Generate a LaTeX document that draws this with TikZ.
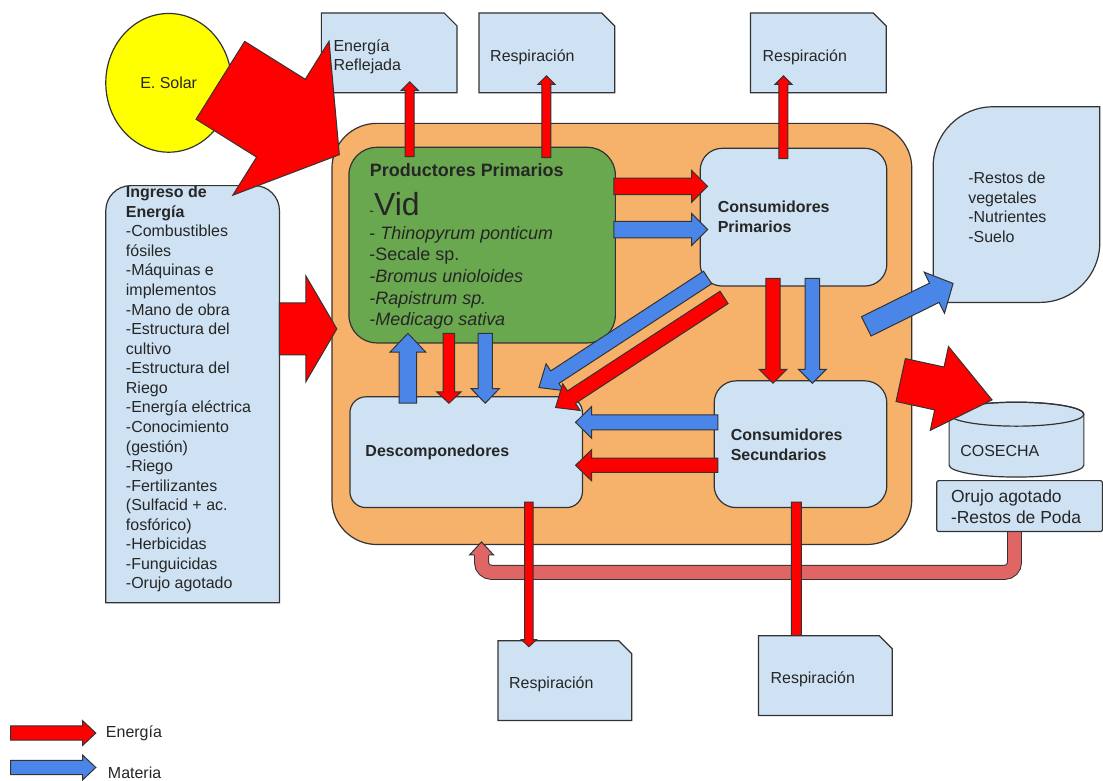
\documentclass[tikz,border=0pt]{standalone}
\usepackage{fontspec}
\setmainfont{Liberation Sans}
\usetikzlibrary{calc,shapes.geometric}

\definecolor{cajaazul}{HTML}{CFE2F3}
\definecolor{verdevid}{HTML}{6AA84F}
\definecolor{naranja}{HTML}{F6B26B}
\definecolor{energia}{HTML}{FF0000}
\definecolor{materia}{HTML}{4A86E8}
\definecolor{amarillo}{HTML}{FFFF00}
\definecolor{retorno}{HTML}{E06666}
\definecolor{borde}{HTML}{333333}

\tikzset{
    caja/.style={draw=borde, fill=cajaazul, line width=1.2pt, anchor=north west, inner sep=0pt},
    texto/.style={anchor=west, inner sep=0pt, text=black!85, font=\fontsize{16}{19.6}\selectfont, align=left},
    negrita/.style={texto, font=\fontsize{16}{19.6}\selectfont\bfseries},
    flecha/.style={draw=borde, line width=1pt, line join=miter}
}

\newcommand{\fatarrow}[6][energia]{%
    \filldraw[flecha, fill=#1] ($(#2)!#4pt!90:(#3)$) -- ($(#3)!#6pt!(#2)!#4pt!-90:(#2)$)
        -- ($(#3)!#6pt!(#2)!#5pt!-90:(#2)$) -- (#3) -- ($(#3)!#6pt!(#2)!#5pt!90:(#2)$)
        -- ($(#3)!#6pt!(#2)!#4pt!90:(#2)$) -- ($(#2)!#4pt!-90:(#3)$) -- cycle;}

\begin{document}
\begin{tikzpicture}[x=1pt, y=-1pt]
    \fill[white] (0,0) rectangle (1103,780);
    \node[caja, fill=naranja, minimum width=581, minimum height=422, rounded corners=45] (agro) at (332,123) {};
    \node[caja, fill=verdevid, minimum width=267, minimum height=196, rounded corners=28] (pp) at (349,147) {};
    \node[caja, minimum width=187, minimum height=138, rounded corners=22] (cp) at (701,148) {};
    \node[caja, minimum width=233, minimum height=111, rounded corners=16] (desc) at (350,397) {};
    \node[caja, minimum width=173, minimum height=127, rounded corners=22] (cs) at (715,381) {};
    \foreach \n/\x/\y/\w in {refl/322/13/136, resp1/480/13/136, resp2/752/13/136, resp3/499/642/134}
        \filldraw[caja] (\x,\y) coordinate (\n) -- ++(\w-13,0) -- ++(13,13) -- ++(0,67) -- ++(-\w,0) -- cycle;
    \node[draw=borde, line width=1.2pt, fill=amarillo, ellipse, minimum width=126, minimum height=139,
        inner sep=0pt, text=black!85, font=\fontsize{16}{19.6}\selectfont] (sol) at (169,83) {E. Solar};
    \filldraw[caja] (106,604) -- (106,211) arc[start angle=180, end angle=90, radius=25pt]
        -- (255,186) arc[start angle=90, end angle=0, radius=25pt] -- (280,604) -- cycle;
    \filldraw[caja] (935,303) -- (935,167) arc[start angle=180, end angle=90, radius=60pt]
        -- (1102,107) -- (1102,243) arc[start angle=0, end angle=-90, radius=60pt] -- cycle;
    \filldraw[caja] (951,415) -- (951,466) arc[start angle=180, end angle=360, x radius=67.5pt, y radius=12pt]
        -- (1086,415) arc[start angle=0, end angle=180, x radius=67.5pt, y radius=12pt] -- cycle;
    \draw[draw=borde, line width=1.2pt] (1018.5,415) ellipse [x radius=67.5pt, y radius=12pt];

    \foreach \n/\x/\y in {solA/220.8/80.5, solB/340/155, ingA/280/329.5, ingB/337.5/329.5,
        reflA/410.5/157, reflB/410.5/82, rspA/547.5/158, rspB/547.5/76, rscA/785/159, rscB/785/76,
        ppcpA/615/186.7, ppcpB/709/186.7, ppcpC/615/230, ppcpD/709/230,
        cpcsA/774.5/279, cpcsB/774.5/384, cpcsC/814/279, cpcsD/814/384,
        cpdA/709/278, cpdB/540/388.3, cpdC/725.5/298, cpdD/556.7/408.3,
        csdA/719.3/423.2, csdB/576.7/423.2, csdC/719.3/466.2, csdD/576.7/466.2,
        dppA/408.7/404, dppB/408.7/334, ppdA/449.8/334, ppdB/449.8/404, ppdC/486.2/334, ppdD/486.2/404,
        dresA/530/503, dresB/530/648, csresA/798/503, csresB/798/650,
        restA/868/327, restB/955/284, cosA/902.5/380.8, cosB/994/400.7,
        leyA/10.7/734.5, leyB/96/734.5, leyC/10.7/769, leyD/96/769,
        ret1/1016.5/531, ret2/482.5/543}
        \coordinate (\n) at (\x,\y);

    \draw[line width=15, borde, rounded corners=10] (ret1) -- ++(0,42.5) -| ($(ret2)+(0,12)$);
    \draw[line width=13, retorno, rounded corners=10] (ret1) -- ++(0,42.5) -| ($(ret2)+(0,12)$);
    \fill[retorno] ($(ret2)+(-12,13)$) -- (ret2) -- ($(ret2)+(12,13)$) -- cycle;
    \draw[flecha] ($(ret2)+(-7.5,13)$) -- ($(ret2)+(-12,13)$) -- (ret2) -- ($(ret2)+(12,13)$) -- ($(ret2)+(7.5,13)$);
    \node[caja, minimum width=166, minimum height=51, rounded corners=2] (orujo) at (938,481) {};

    \fatarrow{csresA}{csresB}{5}{8}{8}
    \filldraw[caja] (760,637) coordinate (resp4) -- ++(121,0) -- ++(13,13) -- ++(0,67) -- ++(-134,0) -- cycle;

    \foreach \c/\a/\b/\w/\h/\l in {energia/solA/solB/46/91/69, energia/ingA/ingB/26/53/31,
        energia/reflA/reflB/4.5/8.5/8.5, energia/rspA/rspB/4.5/8.5/8.5, energia/rscA/rscB/4.5/8.5/8.5,
        energia/ppcpA/ppcpB/8.3/16/16, materia/ppcpC/ppcpD/8.3/16/16,
        energia/cpcsA/cpcsB/7.2/14/14, materia/cpcsC/cpcsD/7.2/14/14,
        materia/cpdA/cpdB/7.5/16/19, energia/cpdC/cpdD/7.4/16/19,
        materia/csdA/csdB/7.5/15.8/16, energia/csdC/csdD/7.2/15.5/16,
        materia/dppA/dppB/8.7/17.8/18.7, energia/ppdA/ppdB/5.8/12.2/11.3, materia/ppdC/ppdD/7.2/14.2/14.7,
        energia/dresA/dresB/4.3/7.5/7, materia/restA/restB/10.8/23/21, energia/cosA/cosB/22/43/54,
        energia/leyA/leyB/7.2/12.5/13.3, materia/leyC/leyD/7.2/12.5/13.3}
        \fatarrow[\c]{\a}{\b}{\w}{\h}{\l};

    \node[texto] (trefl) at (334,57) {Energía\\Reflejada};
    \node[texto] (tresp1) at (491,57) {Respiración};
    \node[texto] (tresp2) at (764,57) {Respiración};
    \node[texto] (tresp3) at (510,686) {Respiración};
    \node[texto] (tresp4) at (772,681) {Respiración};
    \node[texto, font=\fontsize{18}{21}\selectfont\bfseries] (tpp) at (370.5,170) {Productores Primarios};
    \node[texto] (tvid) at (370,204) {{\fontsize{14}{14}\selectfont -}{\fontsize{32}{32}\selectfont Vid}};
    \node[texto, font=\fontsize{18}{21.7}\selectfont] (tlista) at (370,278.5)
        {- \textit{Thinopyrum ponticum}\\-Secale sp.\\\textit{-Bromus unioloides}\\\textit{-Rapistrum sp.}\\\textit{-Medicago sativa}};
    \node[negrita] (tcp) at (719,217) {Consumidores\\Primarios};
    \node[negrita] (tcs) at (732,445.5) {Consumidores\\Secundarios};
    \node[negrita] (tdesc) at (366,453) {Descomponedores};
    \node[texto] (ting) at (126,390) {\textbf{Ingreso de}\\\textbf{Energía}\\-Combustibles\\fósiles\\-Máquinas e\\implementos\\-Mano de obra\\-Estructura del\\cultivo\\-Estructura del\\Riego\\-Energía eléctrica\\-Conocimiento\\(gestión)\\-Riego\\-Fertilizantes\\(Sulfacid + ac.\\fosfórico)\\-Herbicidas\\-Funguicidas\\-Orujo agotado};
    \node[texto] (trest) at (970,207.5) {-Restos de\\vegetales\\-Nutrientes\\-Suelo};
    \node[texto] (tcos) at (962,452) {COSECHA};
    \node[texto, font=\fontsize{17.5}{21.5}\selectfont] (toru) at (952.7,508) {Orujo agotado\\-Restos de Poda};
    \node[texto] (tley1) at (106,735) {Energía};
    \node[texto] (tley2) at (108,774) {Materia};
\end{tikzpicture}
\end{document}
